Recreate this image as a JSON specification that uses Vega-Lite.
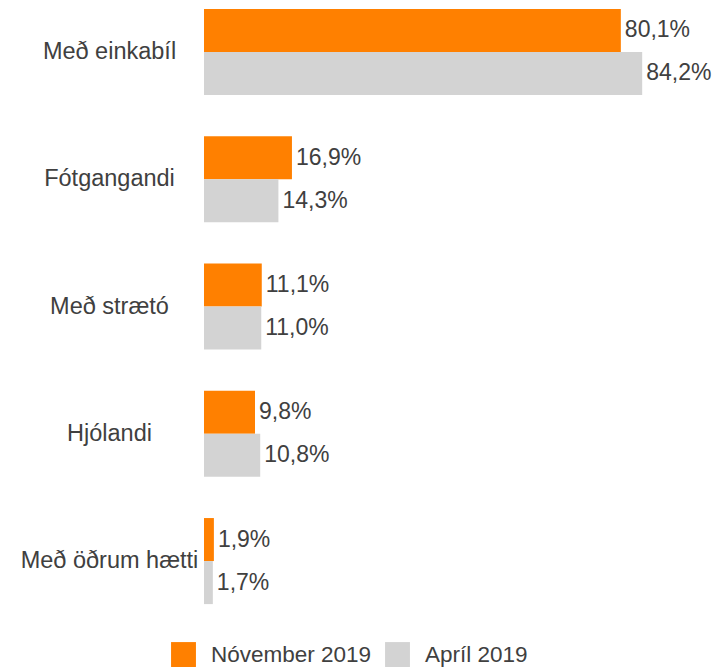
{
  "$schema": "https://vega.github.io/schema/vega-lite/v6.json",
  "autosize": "none",
  "padding": {"left": 204, "top": 0, "right": 2, "bottom": 54},
  "width": 510,
  "height": 613,
  "data": {
    "values": [
      {"cat": "Með einkabíl", "series": "Nóvember 2019", "value": 0.801},
      {"cat": "Með einkabíl", "series": "Apríl 2019", "value": 0.842},
      {"cat": "Fótgangandi", "series": "Nóvember 2019", "value": 0.169},
      {"cat": "Fótgangandi", "series": "Apríl 2019", "value": 0.143},
      {"cat": "Með strætó", "series": "Nóvember 2019", "value": 0.111},
      {"cat": "Með strætó", "series": "Apríl 2019", "value": 0.110},
      {"cat": "Hjólandi", "series": "Nóvember 2019", "value": 0.098},
      {"cat": "Hjólandi", "series": "Apríl 2019", "value": 0.108},
      {"cat": "Með öðrum hætti", "series": "Nóvember 2019", "value": 0.019},
      {"cat": "Með öðrum hætti", "series": "Apríl 2019", "value": 0.017}
    ]
  },
  "encoding": {
    "y": {
      "field": "cat", "type": "nominal",
      "sort": ["Með einkabíl", "Fótgangandi", "Með strætó", "Hjólandi", "Með öðrum hætti"],
      "scale": {"paddingInner": 0.324, "paddingOuter": 0.07},
      "axis": {"title": null, "domain": false, "ticks": false, "labelFontSize": 23.5, "labelColor": "#404040", "labelPadding": 95, "labelAlign": "center", "labelLimit": 300, "labelFont": "Liberation Sans"}
    },
    "yOffset": {"field": "series", "type": "nominal", "sort": ["Nóvember 2019", "Apríl 2019"]},
    "x": {"field": "value", "type": "quantitative", "scale": {"domain": [0, 0.98], "nice": false}, "axis": null}
  },
  "layer": [
    {
      "mark": {"type": "bar"},
      "encoding": {
        "color": {
          "field": "series", "type": "nominal",
          "scale": {"domain": ["Nóvember 2019", "Apríl 2019"], "range": ["#FF8000", "#D3D3D3"]},
          "legend": {
            "title": null, "orient": "none", "direction": "horizontal",
            "legendX": -33, "legendY": 642,
            "symbolType": "square", "symbolSize": 620, "symbolStrokeWidth": 0, "symbolOpacity": 1,
            "labelFontSize": 22.5, "labelColor": "#404040", "labelFont": "Liberation Sans",
            "labelLimit": 400, "labelOffset": 15, "columnPadding": 13
          }
        }
      }
    },
    {
      "mark": {"type": "text", "align": "left", "baseline": "middle", "dx": 4, "fontSize": 23, "color": "#404040", "font": "Liberation Sans"},
      "encoding": {
        "text": {"field": "value", "type": "quantitative", "format": ".1%"}
      }
    }
  ],
  "config": {
    "view": {"stroke": null},
    "locale": {"number": {"decimal": ",", "thousands": ".", "grouping": [3], "currency": ["", " kr."]}}
  }
}
